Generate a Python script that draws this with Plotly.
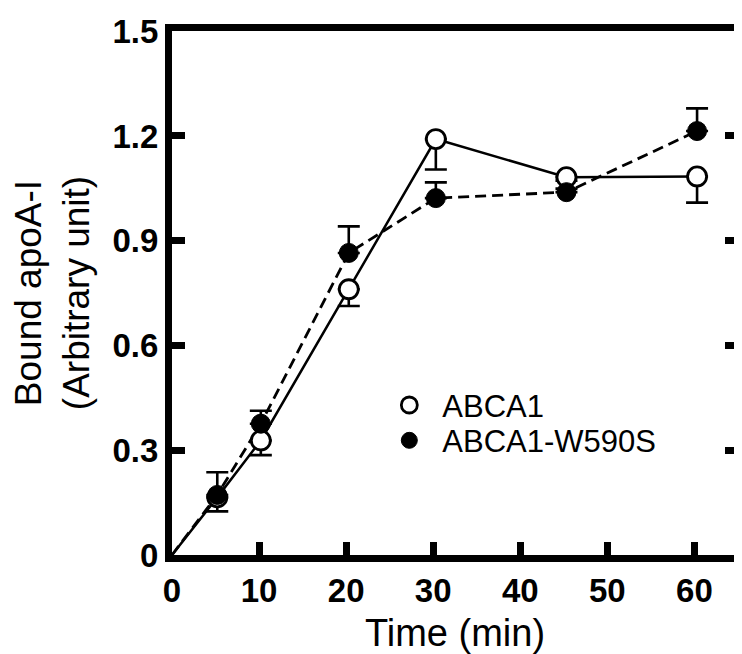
import plotly.graph_objects as go

time_min = [5.2, 10.2, 20.3, 30.3, 45.3, 60.3]
abca1 = [0.165, 0.328, 0.761, 1.191, 1.082, 1.084]
abca1_err = [0.040, 0.042, 0.048, 0.087, 0.010, 0.075]
w590s = [0.172, 0.376, 0.865, 1.022, 1.039, 1.214]
w590s_err = [0.065, 0.037, 0.076, 0.045, 0.010, 0.065]
origin_t = [0]
origin_v = [0]
x_ticks = [0, 10, 20, 30, 40, 50, 60]
y_ticks = [0, 0.3, 0.6, 0.9, 1.2, 1.5]
y_tick_text = ["0", "0.3", "0.6", "0.9", "1.2", "1.5"]

FONT = "Arial, Liberation Sans, sans-serif"

fig = go.Figure()

# connecting lines (start at the origin)
fig.add_trace(go.Scatter(x=origin_t + time_min, y=origin_v + abca1, mode="lines",
                         line=dict(color="black", width=2.5), showlegend=False, hoverinfo="skip"))
fig.add_trace(go.Scatter(x=origin_t + time_min, y=origin_v + w590s, mode="lines",
                         line=dict(color="black", width=2.8, dash="11px,6px"), showlegend=False, hoverinfo="skip"))

# markers with one-sided error bars
fig.add_trace(go.Scatter(x=time_min, y=abca1, mode="markers", name="ABCA1", legend="legend",
                         marker=dict(symbol="circle", size=19, color="white",
                                     line=dict(color="black", width=2.8)),
                         error_y=dict(type="data", symmetric=False, array=[0] * len(abca1_err),
                                      arrayminus=abca1_err, color="black", thickness=2.6, width=11)))
fig.add_trace(go.Scatter(x=time_min, y=w590s, mode="markers", name="ABCA1-W590S", legend="legend2",
                         marker=dict(symbol="circle", size=19, color="black",
                                     line=dict(color="black", width=1)),
                         error_y=dict(type="data", symmetric=False, array=w590s_err,
                                      arrayminus=[0] * len(w590s_err), color="black", thickness=2.6, width=11)))

leg_common = dict(xanchor="left", yanchor="middle",
                  font=dict(size=31, family=FONT, color="black"),
                  bgcolor="rgba(0,0,0,0)", itemwidth=56, borderwidth=0)

fig.update_layout(
    width=742, height=654,
    margin=dict(l=164, r=5, t=13, b=107),
    paper_bgcolor="white", plot_bgcolor="white",
    font=dict(family=FONT, color="black"),
    legend=dict(x=0.361, y=0.2856, **leg_common),
    legend2=dict(x=0.361, y=0.2182, **leg_common),
    xaxis=dict(range=[0, 65], tickvals=x_ticks, ticks="inside", ticklen=13, tickwidth=7,
               tickcolor="black", showline=True, linewidth=7, linecolor="black", mirror=True,
               showgrid=False, zeroline=False,
               tickfont=dict(size=33, family=FONT, weight="bold"),
               title=dict(text="Time (min)", font=dict(size=38, family=FONT), standoff=14)),
    yaxis=dict(range=[0, 1.5005], tickvals=y_ticks, ticktext=y_tick_text, ticks="inside", ticklen=13,
               tickwidth=7, tickcolor="black", showline=True, linewidth=7, linecolor="black",
               mirror="ticks", showgrid=False, zeroline=False, ticklabeloverflow="allow",
               tickfont=dict(size=33, family=FONT, weight="bold"),
               title=dict(text="Bound apoA-I<br>(Arbitrary unit)", font=dict(size=37, family=FONT),
                          standoff=20)),
)

fig.write_html("out.html")
